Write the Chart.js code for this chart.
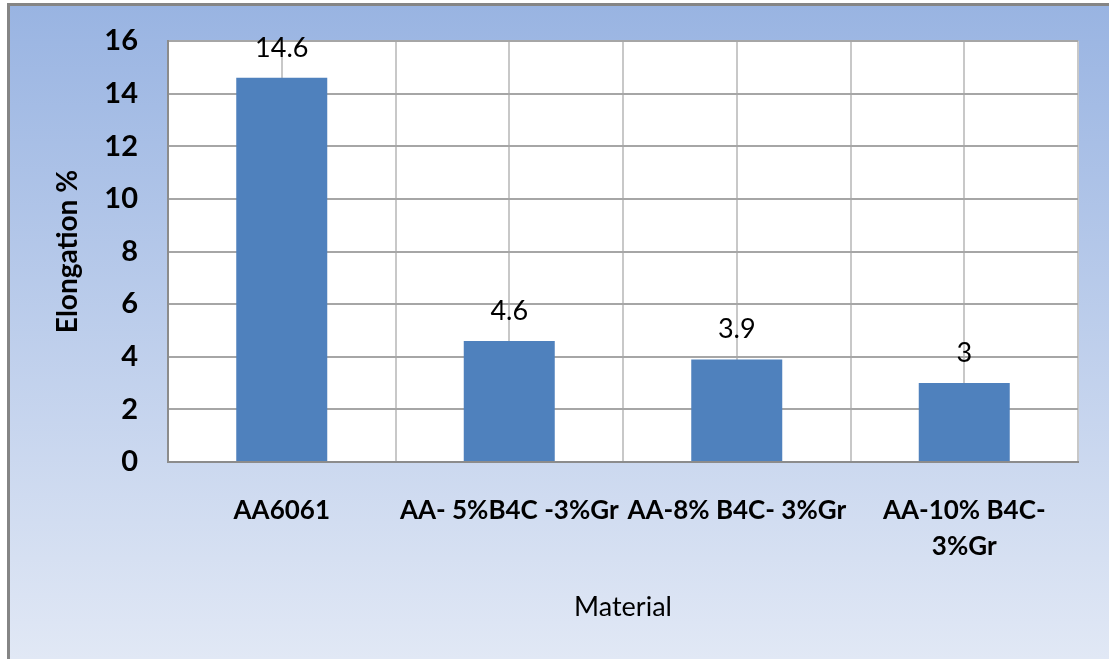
<!DOCTYPE html>
<html>
<head>
<meta charset="utf-8">
<script src="https://cdn.jsdelivr.net/npm/chart.js@4/dist/chart.umd.min.js"></script>
<style>
  html, body { margin: 0; padding: 0; background: #ffffff; }
  #wrap { width: 1109px; height: 659px; }
</style>
</head>
<body>
<div id="wrap"><canvas id="elongChart" width="1109" height="659"></canvas></div>
<script>
// values
const materials = ['AA6061', 'AA- 5%B4C -3%Gr', 'AA-8% B4C- 3%Gr', ['AA-10% B4C-', '3%Gr']];
const elongation = [14.6, 4.6, 3.9, 3];
const valueLabels = ['14.6', '4.6', '3.9', '3'];
const yTicks = [0, 2, 4, 6, 8, 10, 12, 14, 16];

const FONT = "Lato, 'Open Sans', sans-serif";

// gradient box with a grey frame, like the office chart area
const backdrop = {
    id: 'backdrop',
    beforeDraw(chart) {
        const ctx = chart.ctx;
        ctx.save();
        ctx.fillStyle = '#ffffff';
        ctx.fillRect(0, 0, chart.width, chart.height);
        const g = ctx.createLinearGradient(0, 6, 0, chart.height);
        g.addColorStop(0, '#99b4e2');
        g.addColorStop(1, '#e1e8f5');
        ctx.fillStyle = g;
        ctx.fillRect(10, 6, chart.width - 10, chart.height - 6);
        ctx.strokeStyle = '#858585';
        ctx.lineWidth = 3;
        ctx.beginPath();
        ctx.moveTo(8.5, chart.height);
        ctx.lineTo(8.5, 4.5);
        ctx.lineTo(chart.width, 4.5);
        ctx.stroke();
        // white plot area
        const a = chart.chartArea;
        ctx.fillStyle = '#ffffff';
        ctx.fillRect(a.left, a.top, a.right - a.left, a.bottom - a.top);
        ctx.restore();
    }
};

// value labels over each bar
const barValues = {
    id: 'barValues',
    afterDatasetsDraw(chart) {
        const ctx = chart.ctx;
        const meta = chart.getDatasetMeta(0);
        ctx.save();
        ctx.font = '27px ' + FONT;
        ctx.fillStyle = '#000000';
        ctx.textAlign = 'center';
        ctx.textBaseline = 'middle';
        meta.data.forEach((bar, i) => {
            ctx.fillText(valueLabels[i], bar.x, bar.y - 30);
        });
        ctx.restore();
    }
};

new Chart(document.getElementById('elongChart'), {
    type: 'bar',
    data: {
        labels: materials,
        datasets: [{
            label: 'Elongation %',
            data: elongation,
            backgroundColor: '#4f81bd',
            borderWidth: 0,
            categoryPercentage: 1.0,
            barPercentage: 0.4
        }]
    },
    options: {
        responsive: false,
        animation: false,
        events: [],
        layout: { padding: { left: 10, top: 41, right: 31, bottom: 0 } },
        plugins: {
            legend: { display: false },
            tooltip: { enabled: false }
        },
        scales: {
            x: {
                offset: true,
                grid: { offset: true, color: '#c8c8c8', lineWidth: 2, drawTicks: false },
                border: { color: '#8c8c8c', width: 2 },
                ticks: {
                    autoSkip: false,
                    maxRotation: 0,
                    minRotation: 0,
                    padding: 30,
                    color: '#000000',
                    font: { family: FONT, size: 26, weight: 'bold', lineHeight: 1.4 }
                },
                title: {
                    display: true,
                    text: 'Material',
                    color: '#000000',
                    font: { family: FONT, size: 27, weight: 'normal', lineHeight: 1.2 },
                    padding: { top: 0, bottom: 36 }
                },
                afterFit(scale) { scale.height = 197; }
            },
            // second category axis only for the gridlines through the bar centres
            xMid: {
                type: 'category',
                position: 'bottom',
                offset: true,
                grid: { offset: false, color: '#c8c8c8', lineWidth: 2, drawTicks: false },
                border: { display: false },
                ticks: { display: false },
                afterFit(scale) { scale.height = 0; }
            },
            y: {
                min: 0,
                max: 16,
                afterBuildTicks(scale) { scale.ticks = yTicks.map(v => ({ value: v })); },
                grid: { color: '#a6a6a6', lineWidth: 2, drawTicks: false },
                border: { color: '#8c8c8c', width: 2 },
                ticks: {
                    padding: 30,
                    color: '#000000',
                    font: { family: FONT, size: 29, weight: 'bold' }
                },
                title: {
                    display: true,
                    text: 'Elongation %',
                    color: '#000000',
                    font: { family: FONT, size: 28, weight: 'bold', lineHeight: 1.2 },
                    padding: { top: 41, bottom: 0 }
                },
                afterFit(scale) {
                    scale.width = 158;
                    // tick padding should not push the plot down
                    scale.paddingTop = 0;
                    scale.paddingBottom = 0;
                }
            }
        }
    },
    plugins: [backdrop, barValues]
});
</script>
</body>
</html>
